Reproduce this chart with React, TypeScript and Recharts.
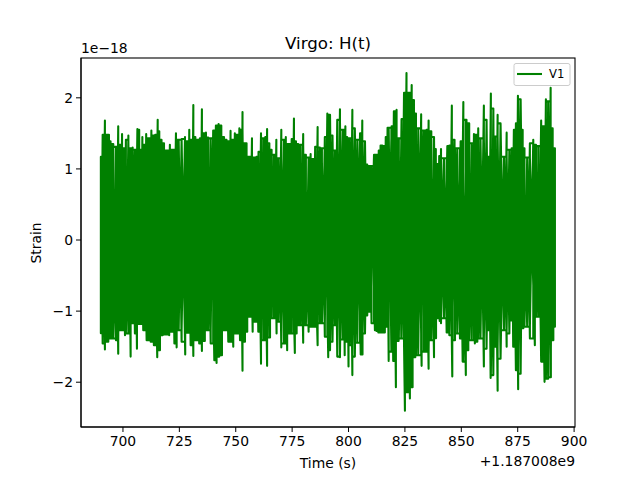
import React from "react";
import { LineChart, Line, XAxis, YAxis } from "recharts";

const upperTimes = [690.2,691.0,692.0,692.8,693.8,694.5,695.7,696.9,697.9,698.7,699.6,700.4,701.3,702.4,703.1,704.3,705.3,706.4,707.2,708.0,708.6,709.5,710.3,711.4,712.6,713.4,714.3,715.4,716.1,717.1,718.2,719.6,720.8,722.0,723.5,724.7,726.0,727.5,728.5,729.4,730.3,731.2,732.1,732.9,734.1,735.0,735.9,736.8,737.8,738.9,740.0,741.2,742.4,743.6,744.8,745.9,746.8,747.7,748.6,749.6,750.7,751.6,752.4,753.0,753.9,754.8,756.0,757.2,758.1,759.2,760.1,761.2,762.2,763.1,763.9,764.9,765.9,766.9,768.0,769.0,770.2,771.4,772.2,773.3,774.8,775.8,776.7,777.7,778.8,779.9,781.1,782.3,783.2,784.4,785.2,786.3,787.3,788.2,789.5,790.6,791.8,792.9,794.0,795.0,796.2,797.4,798.6,799.4,800.6,801.7,802.8,803.9,805.1,806.1,807.3,808.3,809.5,811.3,812.7,813.4,814.2,815.0,815.7,816.5,817.3,819.1,820.1,821.3,822.3,823.5,824.6,825.7,826.9,828.0,829.0,829.9,830.9,832.2,833.4,834.6,835.5,836.7,837.9,838.7,839.5,840.2,841.0,842.3,843.8,844.7,845.8,847.0,848.2,849.7,850.9,852.3,853.5,854.6,855.6,856.5,857.5,858.5,860.0,861.2,862.1,863.1,864.2,865.0,866.1,867.4,868.9,870.1,871.3,872.3,873.3,874.2,875.1,876.3,877.2,878.0,879.2,880.4,881.9,883.1,884.2,885.4,886.3,887.5,888.5,889.6,890.5,891.5];
const upperStrain = [1.17,1.48,1.68,1.48,1.48,1.39,1.35,1.31,1.60,1.34,1.49,1.29,1.41,1.47,1.29,1.30,1.27,1.56,1.55,1.27,1.45,1.34,1.49,1.43,1.54,1.47,1.48,1.69,1.53,1.41,1.36,1.26,1.34,1.27,1.50,1.41,1.42,1.45,1.39,1.55,1.41,1.90,1.45,1.41,1.43,1.84,1.50,1.51,1.44,1.43,1.54,1.61,1.63,1.61,1.45,1.41,1.39,1.535,1.41,1.50,1.48,1.57,1.55,1.80,1.36,1.36,1.17,1.43,1.16,1.17,1.24,1.50,1.43,1.45,1.56,1.36,1.27,1.20,1.41,1.15,1.55,1.41,1.45,1.35,1.42,1.71,1.39,1.35,1.34,1.49,1.20,1.16,1.21,1.14,1.31,1.59,1.30,1.29,1.45,1.78,1.76,1.47,1.26,1.69,1.84,1.55,1.60,1.45,1.43,1.83,1.57,1.41,1.50,1.68,1.39,1.06,1.04,1.20,1.20,1.26,1.33,1.33,1.32,1.45,1.58,1.60,1.81,1.83,1.43,1.70,2.07,2.35,2.07,2.18,1.97,1.78,1.57,1.77,1.54,1.55,1.68,1.53,1.45,1.28,1.07,1.18,1.28,1.15,1.32,1.33,1.89,1.41,1.29,1.39,1.94,1.69,1.64,1.36,1.49,1.48,1.57,1.43,1.89,1.69,1.17,2.06,1.85,1.455,1.76,1.64,1.17,1.51,1.27,1.29,1.55,1.64,2.03,1.98,1.55,1.29,1.16,1.36,1.41,1.34,1.32,1.68,1.60,1.98,1.95,2.14,1.57,1.29];
const lowerTimes = [690.2,691.0,692.0,693.5,695.0,696.9,697.9,699.4,700.9,702.4,703.4,704.3,705.3,706.2,707.5,709.0,710.5,712.3,713.7,715.2,716.4,717.6,719.1,720.5,721.6,722.8,723.8,724.7,726.0,727.6,728.7,730.0,731.2,732.6,733.8,735.0,736.3,737.5,738.9,740.5,741.5,742.7,743.9,745.1,746.7,748.9,750.4,751.9,753.0,754.1,755.1,756.3,757.5,759.0,760.0,761.2,762.5,763.9,765.2,767.2,768.1,769.0,770.2,771.4,772.8,774.0,776.2,777.0,778.5,779.9,780.8,782.3,784.1,786.3,788.1,789.5,791.0,791.8,792.9,794.0,795.0,796.2,797.4,798.3,799.1,800.0,800.6,801.7,802.8,803.9,805.4,806.2,807.3,808.3,809.2,810.2,811.7,812.4,813.2,814.6,815.4,816.1,816.9,817.8,819.0,819.8,821.0,822.2,823.4,825.0,826.0,827.2,828.4,829.6,830.9,832.4,833.9,835.5,836.4,837.9,838.8,839.8,840.4,841.0,842.3,843.5,844.7,846.0,847.2,848.2,849.4,850.6,852.0,853.1,854.6,856.0,857.1,858.5,860.0,861.2,862.1,863.0,864.2,864.8,866.1,867.4,868.9,870.1,871.3,872.3,873.0,874.2,875.2,876.3,877.5,879.2,880.4,882.6,884.1,885.4,886.9,888.5,889.7,890.8,891.5];
const lowerStrain = [-1.31,-1.455,-1.54,-1.43,-1.385,-1.41,-1.60,-1.27,-1.34,-1.315,-1.64,-1.17,-1.315,-1.53,-1.18,-1.27,-1.41,-1.43,-1.48,-1.65,-1.55,-1.34,-1.33,-1.34,-1.29,-1.455,-1.51,-1.27,-1.43,-1.61,-1.305,-1.48,-1.63,-1.41,-1.455,-1.56,-1.42,-1.27,-1.455,-1.69,-1.73,-1.64,-1.62,-1.27,-1.43,-1.50,-1.315,-1.41,-1.84,-1.43,-1.29,-1.08,-1.29,-1.15,-1.29,-1.74,-1.41,-1.77,-1.37,-1.10,-1.315,-1.15,-1.51,-1.455,-1.55,-1.315,-1.59,-1.315,-1.20,-1.445,-1.20,-1.29,-1.22,-1.48,-1.17,-1.36,-1.65,-1.55,-1.43,-1.20,-1.64,-1.65,-1.40,-1.62,-1.43,-1.78,-1.48,-1.90,-1.64,-1.445,-1.61,-1.61,-1.315,-1.06,-1.01,-1.17,-1.27,-1.28,-1.30,-1.30,-1.30,-1.30,-1.22,-1.70,-1.57,-1.70,-2.07,-1.42,-1.385,-2.40,-2.14,-2.23,-2.07,-1.65,-1.62,-1.77,-1.57,-1.81,-1.41,-1.65,-1.38,-1.10,-1.14,-1.17,-1.10,-1.30,-1.34,-1.92,-1.41,-1.315,-1.385,-1.71,-1.90,-1.55,-1.41,-1.455,-1.43,-1.385,-1.78,-1.53,-1.27,-1.94,-1.90,-1.50,-2.12,-1.67,-1.27,-1.50,-1.315,-1.13,-1.50,-1.83,-2.10,-1.88,-1.24,-1.22,-1.385,-1.48,-1.08,-1.71,-1.995,-1.95,-1.93,-1.41,-1.22];

const xTicks = [700, 725, 750, 775, 800, 825, 850, 875, 900];
const yTicks = [-2, -1, 0, 1, 2];
const seriesName = "V1";
const titleText = "Virgo: H(t)";
const xLabel = "Time (s)";
const yLabel = "Strain";
const xOffsetText = "+1.187008e9";
const yOffsetText = "1e\u221218";

type P = { time: number; strain: number };
const uppers: P[] = upperTimes.map((time, i) => ({ time, strain: upperStrain[i] }));
const lowers: P[] = lowerTimes.map((time, i) => ({ time, strain: lowerStrain[i] }));
const lesser = (a: number, b: number) => (Math.abs(a) < Math.abs(b) ? a : b);
// The less extreme of the two reads on the other envelope that bracket time t.
const insideAt = (t: number, side: P[]) => {
  const j = side.findIndex((p) => p.time >= t);
  if (j < 0) return side[side.length - 1].strain;
  return lesser(side[Math.max(0, j - 1)].strain, side[j].strain);
};
// The envelope as narrow spikes on a floor: each read stands up from the lower of its neighbours.
const spikes = (side: P[]) =>
  side.flatMap((p, i) => {
    const next = side[i + 1];
    if (!next) return [p];
    const floor = lesser(p.strain, next.strain);
    return [p, { time: p.time, strain: floor }, { time: next.time, strain: floor }];
  });
// One continuous trace: it swings straight across from every read extreme,
// going right over the upper ones, back over the lower ones, then along both envelopes.
const swingsFromUpper = uppers.flatMap((p) => [p, { time: p.time, strain: insideAt(p.time, lowers) }]);
const swingsFromLower = lowers.flatMap((p) => [p, { time: p.time, strain: insideAt(p.time, uppers) }]).reverse();
const table: P[] = [...swingsFromUpper, ...swingsFromLower, ...spikes(uppers), ...spikes(lowers).reverse()];

const FONT = "'DejaVu Sans'";
const GREEN = "#008000";
const tickStyle = { fontFamily: FONT, fontSize: 13.9, fill: "#000" };
const fmtY = (v: number) => (v < 0 ? "\u2212" + Math.abs(v) : String(v));

export default function App() {
  return (
    <div style={{ position: "absolute", left: 0, top: 0, width: 640, height: 480 }}>
      <LineChart
        width={640}
        height={480}
        data={table}
        margin={{ top: 58, right: 65, bottom: 0, left: 0 }}
      >
        <XAxis
          dataKey="time"
          type="number"
          domain={[681.4, 900.4]}
          ticks={xTicks}
          height={53}
          tickSize={5}
          tickMargin={4}
          stroke="#000"
          tick={tickStyle}
          allowDataOverflow
          interval={0}
        />
        <YAxis
          type="number"
          domain={[-2.63, 2.56]}
          ticks={yTicks}
          width={81}
          tickSize={5}
          tickMargin={3}
          stroke="#000"
          tick={tickStyle}
          tickFormatter={fmtY}
          allowDataOverflow
          interval={0}
        />
        <Line
          dataKey="strain"
          name={seriesName}
          stroke={GREEN}
          strokeWidth={2.08}
          strokeLinejoin="round"
          dot={false}
          type="linear"
          isAnimationActive={false}
        />
        <rect x={81} y={58} width={494} height={369} fill="none" stroke="#000" strokeWidth={1.1} />
        <text x={328} y={49} textAnchor="middle" fontFamily={FONT} fontSize={16.67} fill="#000">{titleText}</text>
        <text x={328} y={468} textAnchor="middle" fontFamily={FONT} fontSize={13.9} fill="#000">{xLabel}</text>
        <text x={41} y={243} textAnchor="middle" fontFamily={FONT} fontSize={13.9} fill="#000" transform="rotate(-90 41 243)">{yLabel}</text>
        <text x={575} y={466} textAnchor="end" fontFamily={FONT} fontSize={13.9} fill="#000">{xOffsetText}</text>
        <text x={81} y={53} textAnchor="start" fontFamily={FONT} fontSize={13.9} fill="#000">{yOffsetText}</text>
        <rect x={514} y={63.5} width={56} height={22} rx={2} fill="#fff" fillOpacity={0.8} stroke="#ccc" strokeWidth={1} />
        <line x1={517} x2={542} y1={74} y2={74} stroke={GREEN} strokeWidth={2.08} />
        <text x={549} y={78} fontFamily={FONT} fontSize={11.6} fill="#000">{seriesName}</text>
      </LineChart>
    </div>
  );
}
